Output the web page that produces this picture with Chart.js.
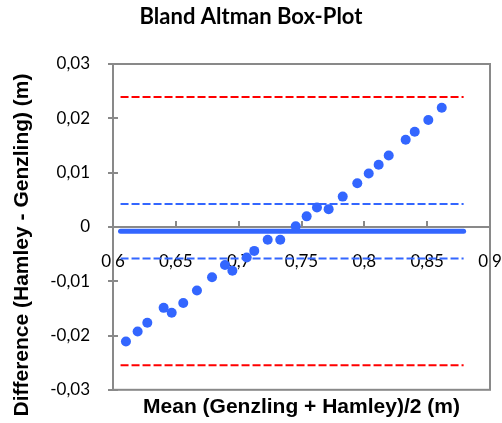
<!DOCTYPE html>
<html>
<head>
<meta charset="utf-8">
<script src="https://cdn.jsdelivr.net/npm/chart.js@4/dist/chart.umd.min.js"></script>
<style>
html,body{margin:0;padding:0;background:#fff;}
#wrap{width:502px;height:423px;}
</style>
</head>
<body>
<div id="wrap"><canvas id="c" width="502" height="423"></canvas></div>
<script>
// Data
const meanValues = [0.6103,0.6196,0.6273,0.6403,0.6467,0.6559,0.6668,0.6788,0.6891,0.6950,0.7064,0.7124,0.7231,0.7331,0.7454,0.7541,0.7623,0.7716,0.7828,0.7944,0.8035,0.8114,0.8194,0.8329,0.8401,0.8509,0.8616];
const diffValues = [-0.02109,-0.01927,-0.01764,-0.01491,-0.01582,-0.01400,-0.01170,-0.00927,-0.00703,-0.00806,-0.00564,-0.00442,-0.00236,-0.00236,0.00012,0.00194,0.00358,0.00327,0.00558,0.00805,0.00982,0.01145,0.01315,0.01605,0.01751,0.01969,0.02195];
const lineRange = [0.606, 0.879];
const meanDiff = -0.00079;
const innerLimits = [0.0042, -0.0058];
const outerLimits = [0.0239, -0.0255];
const xTicks = [0.6, 0.65, 0.7, 0.75, 0.8, 0.85, 0.9];
const yTicks = [-0.03, -0.02, -0.01, 0, 0.01, 0.02, 0.03];
const yTitle = 'Difference (Hamley - Genzling) (m)';
const xTitle = 'Mean (Genzling + Hamley)/2 (m)';
const chartTitle = 'Bland Altman Box-Plot';

const BLUE = '#3366FF';
const RED = '#FF0000';
const AXIS = '#898989';

function hline(y) { return lineRange.map(x => ({x: x, y: y})); }
function fmt(v) { return Number(v.toFixed(2)).toString().replace('.', ','); }

const frame = {
  id: 'frame',
  afterDraw(chart) {
    const {ctx, chartArea: a, scales} = chart;
    ctx.save();
    ctx.strokeStyle = AXIS;
    ctx.lineWidth = 2;
    ctx.strokeRect(a.left, a.top, a.right - a.left, a.bottom - a.top);
    const y0 = scales.y.getPixelForValue(0);
    ctx.beginPath();
    xTicks.forEach(v => {
      const px = Math.round(scales.x.getPixelForValue(v));
      ctx.moveTo(px, y0 - 6); ctx.lineTo(px, y0);
    });
    yTicks.forEach(v => {
      const py = Math.round(scales.y.getPixelForValue(v));
      ctx.moveTo(a.left - 5, py); ctx.lineTo(a.left + 5, py);
    });
    ctx.stroke();
    // vertical axis title
    ctx.translate(22.5, 245);
    ctx.rotate(-Math.PI / 2);
    ctx.fillStyle = '#000';
    ctx.font = 'bold 21px "Liberation Sans"';
    ctx.textAlign = 'center';
    ctx.textBaseline = 'middle';
    ctx.fillText(yTitle, 0, 0);
    ctx.restore();
  }
};

new Chart(document.getElementById('c'), {
  type: 'scatter',
  data: {
    datasets: [
      {data: meanValues.map((x, i) => ({x: x, y: diffValues[i]})), backgroundColor: BLUE, borderColor: BLUE, pointRadius: 5, pointHoverRadius: 5, pointBorderWidth: 0},
      {data: hline(meanDiff), showLine: true, borderColor: BLUE, borderWidth: 5, borderCapStyle: 'round', pointRadius: 0},
      {data: hline(innerLimits[0]), showLine: true, borderColor: BLUE, borderWidth: 2, borderDash: [8, 3], pointRadius: 0},
      {data: hline(innerLimits[1]), showLine: true, borderColor: BLUE, borderWidth: 2, borderDash: [8, 3], pointRadius: 0},
      {data: hline(outerLimits[0]), showLine: true, borderColor: RED, borderWidth: 2, borderDash: [8, 3], pointRadius: 0},
      {data: hline(outerLimits[1]), showLine: true, borderColor: RED, borderWidth: 2, borderDash: [8, 3], pointRadius: 0}
    ]
  },
  options: {
    responsive: false,
    animation: false,
    events: [],
    layout: {padding: 0},
    plugins: {
      legend: {display: false},
      tooltip: {enabled: false},
      title: {display: true, text: chartTitle, color: '#000', font: {family: 'Lato', size: 22, weight: 'bold'}, padding: {top: 4, bottom: 33.6}}
    },
    scales: {
      x: {
        type: 'linear', position: {y: 0}, min: 0.6, max: 0.9,
        afterBuildTicks: s => { s.ticks = xTicks.map(v => ({value: v})); },
        afterFit: s => { s.paddingLeft = 0; s.paddingRight = 12; },
        grid: {display: false, drawTicks: false},
        border: {display: true, color: AXIS, width: 2},
        ticks: {callback: v => fmt(v), color: '#000', padding: 24, maxRotation: 0, autoSkip: false, font: {family: 'Lato', size: 17}}
      },
      x2: {
        type: 'linear', position: 'bottom', min: 0.6, max: 0.9,
        afterFit: s => { s.paddingLeft = 0; s.paddingRight = 12; },
        grid: {display: false, drawTicks: false},
        border: {display: false},
        ticks: {display: false},
        title: {display: true, text: xTitle, color: '#000', font: {family: 'Liberation Sans', size: 21, weight: 'bold'}, padding: {top: 4.4, bottom: 0.4}}
      },
      y: {
        type: 'linear', position: 'left', min: -0.03, max: 0.03,
        afterBuildTicks: s => { s.ticks = yTicks.map(v => ({value: v})); },
        afterFit: s => { s.width = 113; },
        grid: {display: false, drawTicks: false},
        border: {display: true, color: AXIS, width: 2},
        ticks: {callback: v => fmt(v), color: '#000', padding: 23, font: {family: 'Lato', size: 17}}
      }
    }
  },
  plugins: [frame]
});
</script>
</body>
</html>
